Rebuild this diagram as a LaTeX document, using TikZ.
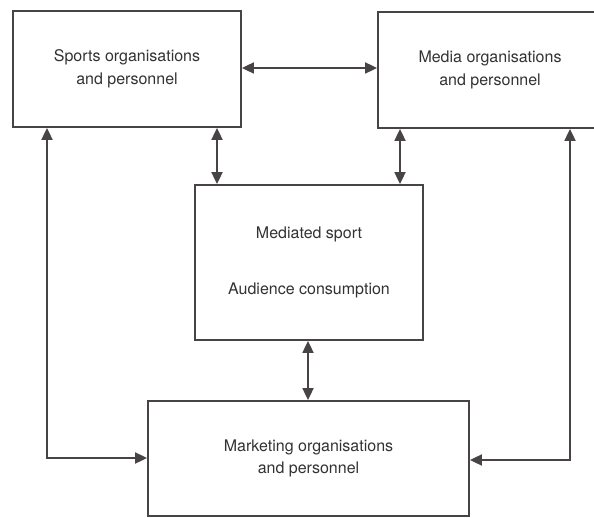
\documentclass[tikz,border=0pt]{standalone}
\usepackage{fontspec}
\setmainfont{TeX Gyre Heros}
\usetikzlibrary{arrows.meta}
\definecolor{ink}{RGB}{72,68,70}
\definecolor{txt}{RGB}{50,50,50}
\tikzset{
  box/.style={draw=ink, line width=1.8pt, rectangle, inner sep=0pt, align=center,
    text=txt, font=\fontsize{16}{22.5}\selectfont},
  dbl/.style={draw=ink, line width=1.8pt, {Triangle[length=12pt,width=11pt]}-{Triangle[length=12pt,width=11pt]}}
}
\begin{document}
\begin{tikzpicture}[x=1pt,y=1pt]
\useasboundingbox (0,0) rectangle (594,-518);
\clip (0,0) rectangle (594,-518);
\node[box, minimum width=228pt, minimum height=116pt] (sports) at (127,-69)
  {Sports organisations\\and personnel};
\node[box, minimum width=224pt, minimum height=116pt] (media) at (490,-70)
  {Media organisations\\and personnel};
\node[box, minimum width=228pt, minimum height=155pt] (mediated) at (309,-262.5)
  {Mediated sport\\[33pt]Audience consumption};
\node[box, minimum width=321pt, minimum height=115pt] (marketing) at (308.5,-458.5)
  {Marketing organisations\\and personnel};
\coordinate (hy) at (0,-68);
\coordinate (x1) at (217,0);
\coordinate (x2) at (400,0);
\coordinate (x3) at (308,0);
\coordinate (L) at (47,-458);
\coordinate (R) at (570,-460);
\draw[dbl] (sports.east |- hy) -- (media.west |- hy);
\draw[dbl] (sports.south -| x1) -- (mediated.north -| x1);
\draw[dbl] (media.south -| x2) -- (mediated.north -| x2);
\draw[dbl] (mediated.south -| x3) -- (marketing.north -| x3);
\draw[dbl] (sports.south -| L) |- (marketing.west |- L);
\draw[dbl] (media.south -| R) |- (marketing.east |- R);
\end{tikzpicture}
\end{document}
